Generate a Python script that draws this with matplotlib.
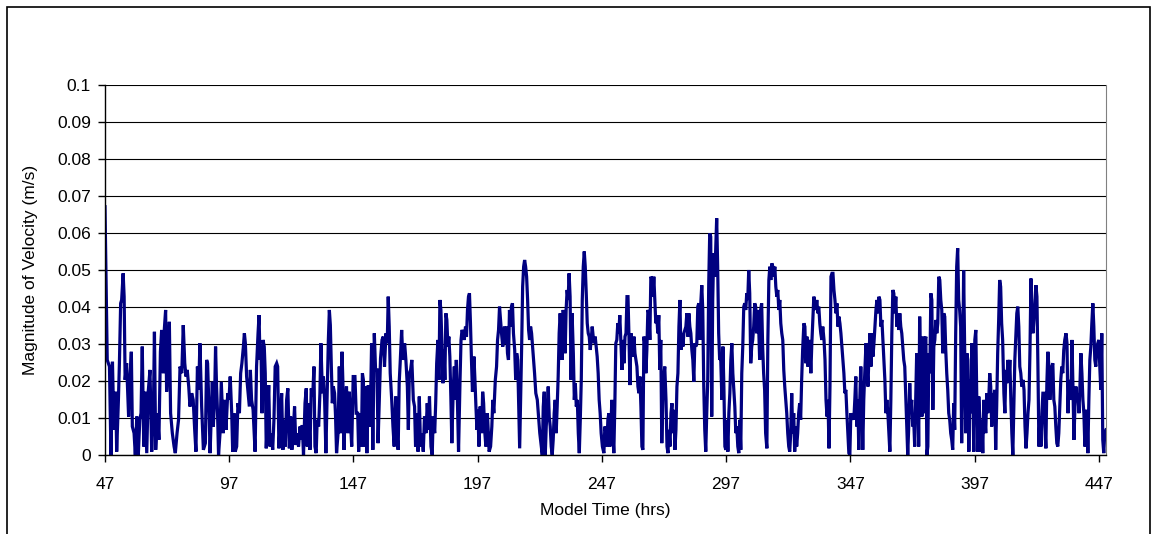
import matplotlib.pyplot as plt
from matplotlib.patches import Rectangle

plt.rcParams['font.family'] = ['Liberation Sans', 'DejaVu Sans']

# model output: hours since start, current speed (m/s)
hours = [
    47.0, 47.9, 48.8, 49.4, 50.0, 50.6, 51.3, 51.7, 52.4, 52.8, 53.3, 53.7, 54.3, 54.7, 55.1, 55.7,
    56.5, 57.1, 57.6, 58.0, 58.7, 59.2, 59.8, 60.4, 61.0, 61.5, 62.0, 62.6, 63.1, 63.8, 64.4, 65.1,
    65.8, 66.5, 66.9, 67.4, 68.1, 68.7, 69.3, 69.8, 70.5, 70.9, 71.4, 71.8, 72.4, 72.9, 73.4, 74.1,
    74.8, 75.3, 76.0, 76.6, 77.2, 77.9, 78.5, 79.1, 79.6, 80.1, 80.7, 81.2, 81.9, 82.5, 83.1, 83.6,
    84.2, 84.7, 85.2, 85.9, 86.6,
    87.4, 87.9, 88.3, 88.9, 89.3, 89.8, 90.2, 90.6, 91.1, 91.5, 91.9, 92.3, 92.7, 93.3, 93.8, 94.2,
    94.6, 95.2, 95.7, 96.4, 96.9, 97.4, 98.0, 98.4, 98.9, 99.4, 100.0, 100.5, 101.1, 101.6, 102.1,
    102.7, 103.1, 103.5, 104.0, 104.5, 105.1, 105.5, 106.0, 106.6, 107.0, 107.4, 108.0, 108.6, 109.0,
    109.4, 109.8, 110.2, 110.6, 111.1, 111.5, 111.9, 112.5, 112.9, 113.4, 113.9, 114.5, 115.0, 115.5,
    116.1, 116.5, 117.0, 117.6, 118.1, 118.6, 119.0, 119.6, 120.1, 120.6, 121.2, 121.7, 122.2, 122.8,
    123.3, 123.8, 124.4, 124.9, 125.5, 126.0, 126.4, 126.9,
    127.5, 128.0, 128.4, 128.9, 129.5, 130.0, 130.6, 131.1, 131.5, 132.0, 132.4, 133.0, 133.5, 133.9,
    134.5, 134.9, 135.4, 135.9, 136.5, 136.9, 137.3, 137.7, 138.1, 138.5, 138.9, 139.4, 139.8, 140.2,
    140.8, 141.3, 141.8, 142.4, 142.8, 143.2, 143.7, 144.2, 144.8, 145.3, 145.9, 146.3, 146.9, 147.6,
    148.1, 148.7, 149.1, 149.6, 150.2, 150.6, 151.0, 151.4, 151.9, 152.4, 153.0, 153.4, 153.9, 154.3,
    154.8, 155.4, 155.9, 156.5, 156.9, 157.4, 157.9, 158.5, 159.0, 159.5, 160.1, 160.6, 161.0, 161.4,
    161.8, 162.4, 162.9, 163.4, 164.0, 164.5, 165.0, 165.4, 165.8, 166.4, 166.9,
    167.6, 168.1, 168.7, 169.1, 169.5, 170.0, 170.5, 171.1, 171.6, 172.0, 172.6, 173.0, 173.5, 174.0,
    174.6, 175.1, 175.6, 176.2, 176.7, 177.2, 177.6, 178.2, 178.7, 179.1, 179.7, 180.1, 180.5, 181.0,
    181.4, 181.8, 182.2, 182.6, 183.0, 183.4, 183.8, 184.2, 184.6, 185.0, 185.4, 185.8, 186.2, 186.6,
    187.2, 187.6, 188.0, 188.4, 188.9, 189.3, 189.9, 190.3, 190.7, 191.2, 191.6, 192.1, 192.5, 192.9,
    193.3, 193.7, 194.1, 194.5, 194.9, 195.5, 195.9, 196.3, 196.7, 197.1, 197.5, 198.0, 198.6, 199.0,
    199.4, 199.8, 200.3, 200.9, 201.3, 201.6, 202.2, 202.7, 203.1, 203.5, 204.1, 204.6, 205.0, 205.4,
    205.8, 206.2, 206.6, 207.1,
    207.8, 208.2, 208.6, 209.0, 209.4, 209.8, 210.2, 210.6, 211.0, 211.4, 211.9, 212.3, 212.7, 213.1,
    213.5, 213.9, 214.3, 214.7, 215.1, 215.5, 215.9, 216.3, 216.7, 217.1, 217.5, 217.9, 218.3, 218.7,
    219.1, 219.5, 219.9, 220.4, 221.0, 221.5, 222.0, 222.6, 223.0, 223.4, 223.8, 224.2, 224.6, 225.0,
    225.4, 225.8, 226.2, 226.6, 227.0, 227.4, 227.8, 228.2, 228.6, 229.0, 229.4, 229.8, 230.2, 230.6,
    231.0, 231.4, 231.8, 232.2, 232.6, 233.0, 233.4, 233.8, 234.2, 234.6, 235.0, 235.5, 235.9, 236.3,
    236.7, 237.1, 237.5, 237.9, 238.3, 238.7, 239.1, 239.5, 239.9, 240.3, 240.7, 241.1, 241.5, 241.9,
    242.3, 242.7, 243.1, 243.5, 244.0, 244.3, 244.7, 245.1, 245.5, 245.9, 246.3, 246.7, 247.2,
    247.8, 248.2, 248.6, 249.0, 249.4, 249.8, 250.2, 250.6, 251.0, 251.4, 251.8, 252.2, 252.6, 253.0,
    253.4, 253.8, 254.2, 254.6, 255.1, 255.5, 255.9, 256.3, 256.7, 257.1, 257.5, 257.9, 258.3, 258.7,
    259.1, 259.5, 259.9, 260.3, 260.7, 261.1, 261.5, 261.9, 262.3, 262.7, 263.1, 263.5, 263.9, 264.3,
    264.7, 265.1, 265.5, 265.9, 266.3, 266.7, 267.1, 267.5, 267.9, 268.3, 268.7, 269.1, 269.5, 269.9,
    270.3, 270.7, 271.1, 271.5, 271.9, 272.3, 272.8, 273.2, 273.6, 274.0, 274.4, 274.8, 275.2, 275.6,
    276.0, 276.4, 276.8, 277.2, 277.6, 278.0, 278.4, 278.8, 279.2, 279.6, 280.0, 280.4, 280.8, 281.2,
    281.6, 282.0, 282.4, 282.8, 283.2, 283.6, 284.0, 284.4, 284.8, 285.2, 285.6, 286.0, 286.4, 286.8,
    287.2, 287.6,
    288.0, 288.4, 288.8, 289.2, 289.6, 290.0, 290.4, 290.8, 291.2, 291.6, 292.0, 292.4, 292.8, 293.2,
    293.6, 294.0, 294.4, 294.8, 295.3, 295.7, 296.1, 296.5, 296.9, 297.3, 297.7, 298.1, 298.5, 298.9,
    299.3, 299.7, 300.1, 300.5, 300.9, 301.3, 301.7, 302.1, 302.5, 302.9, 303.3, 303.7, 304.1, 304.5,
    304.9, 305.3, 305.7, 306.1, 306.5, 306.9, 307.3, 307.7, 308.1, 308.5, 308.9, 309.3, 309.7, 310.1,
    310.5, 310.9, 311.3, 311.7, 312.1, 312.5, 312.9, 313.4, 313.8, 314.2, 314.6, 315.0, 315.4, 315.8,
    316.2, 316.6, 317.0, 317.4, 317.8, 318.2, 318.6, 319.0, 319.4, 319.8, 320.2, 320.6, 321.0, 321.4,
    321.8, 322.2, 322.6, 323.0, 323.4, 323.8, 324.2, 324.6, 325.0, 325.4, 325.8, 326.2, 326.6, 327.0,
    327.4, 327.8,
    328.3, 328.7, 329.1, 329.5, 329.9, 330.3, 330.7, 331.1, 331.5, 331.9, 332.3, 332.7, 333.1, 333.5,
    333.9, 334.3, 334.7, 335.1, 335.5, 335.9, 336.4, 336.8, 337.2, 337.6, 338.0, 338.4, 338.8, 339.2,
    339.6, 340.0, 340.4, 340.8, 341.2, 341.6, 342.0, 342.4, 342.8, 343.2, 343.6, 344.0, 344.4, 344.8,
    345.2, 345.6, 346.0, 346.4, 346.8, 347.2, 347.6, 348.0, 348.4, 348.8, 349.2, 349.6, 350.0, 350.4,
    350.8, 351.2, 351.6, 352.0, 352.4, 352.8, 353.3, 353.7, 354.1, 354.5, 354.9, 355.3, 355.7, 356.1,
    356.5, 356.9, 357.3, 357.7, 358.1, 358.5, 358.9, 359.3, 359.7, 360.1, 360.5, 360.9, 361.3, 361.7,
    362.1, 362.5, 362.9, 363.3, 363.7, 364.1, 364.5, 364.9, 365.3, 365.7, 366.1, 366.5, 366.9, 367.3,
    367.7, 368.1,
    368.5, 368.9, 369.3, 369.7, 370.1, 370.5, 370.9, 371.3, 371.7, 372.1, 372.5, 372.9, 373.3, 373.7,
    374.1, 374.5, 374.9, 375.3, 375.8, 376.2, 376.6, 377.0, 377.4, 377.8, 378.2, 378.6, 379.0, 379.4,
    379.8, 380.2, 380.6, 381.0, 381.4, 381.8, 382.2, 382.6, 383.0, 383.4, 383.8, 384.2, 384.6, 385.0,
    385.4, 385.8, 386.2, 386.6, 387.0, 387.4, 387.8, 388.2, 388.6, 389.0, 389.4, 389.8, 390.2, 390.6,
    391.0, 391.4, 391.8, 392.2, 392.6, 393.0, 393.4, 393.9, 394.3, 394.7, 395.1, 395.5, 395.9, 396.3,
    396.7, 397.1, 397.5, 397.9, 398.3, 398.7, 399.1, 399.5, 399.9, 400.3, 400.7, 401.1, 401.5, 401.9,
    402.3, 402.7, 403.1, 403.5, 403.9, 404.3, 404.7, 405.1, 405.5, 405.9, 406.3, 406.7, 407.1, 407.5,
    407.9, 408.3,
    408.8, 409.2, 409.6, 410.0, 410.4, 410.8, 411.2, 411.6, 412.0, 412.4, 412.8, 413.2, 413.6, 414.0,
    414.4, 414.8, 415.2, 415.6, 416.0, 416.5, 416.9, 417.3, 417.7, 418.1, 418.5, 418.9, 419.3, 419.7,
    420.1, 420.5, 420.9, 421.3, 421.7, 422.1, 422.5, 422.9, 423.3, 423.7, 424.1, 424.5, 424.9, 425.3,
    425.7, 426.1, 426.5, 426.9, 427.3, 427.7, 428.1, 428.5, 428.9, 429.3, 429.7, 430.1, 430.5, 430.9,
    431.3, 431.7, 432.1, 432.5, 432.9, 433.3, 433.8, 434.2, 434.6, 435.0, 435.4, 435.8, 436.2, 436.6,
    437.0, 437.4, 437.8, 438.2, 438.6, 439.0, 439.4, 439.8, 440.2, 440.6, 441.0, 441.4, 441.8, 442.2,
    442.6, 443.0, 443.4, 443.8, 444.2, 444.6, 445.0, 445.4, 445.8, 446.2, 446.6, 447.0, 447.4, 447.8,
    448.2, 448.6, 449.0, 449.4, 449.9,
]

speed = [
    0.0671, 0.0257, 0.0239, 0.0, 0.0252, 0.0068, 0.0171, 0.0009, 0.0149, 0.0248, 0.0410, 0.0419, 0.0491, 0.0428, 0.0203, 0.0248,
    0.0104, 0.0212, 0.0279, 0.0077, 0.0059, 0.0, 0.0104, 0.0, 0.0095, 0.0113, 0.0293, 0.0023, 0.0171, 0.0005, 0.0171, 0.0230,
    0.0009, 0.0131, 0.0333, 0.0014, 0.0113, 0.0041, 0.0279, 0.0338, 0.0221, 0.0342, 0.0392, 0.0171, 0.0257, 0.0360, 0.0113, 0.0059,
    0.0023, 0.0005, 0.0059, 0.0095, 0.0239, 0.0221, 0.0351, 0.0248, 0.0212, 0.0230, 0.0185, 0.0131, 0.0167, 0.0149, 0.0068, 0.0009,
    0.0239, 0.0176, 0.0302, 0.0131, 0.0014,
    0.0032, 0.0257, 0.0248, 0.0113, 0.0005, 0.0113, 0.0198, 0.0077, 0.0149, 0.0293, 0.0185, 0.0113, 0.0, 0.0059, 0.0198, 0.0131,
    0.0059, 0.0149, 0.0068, 0.0167, 0.0149, 0.0212, 0.0113, 0.0009, 0.0113, 0.0009, 0.0023, 0.0140, 0.0113, 0.0221, 0.0248,
    0.0293, 0.0329, 0.0302, 0.0212, 0.0176, 0.0131, 0.0230, 0.0149, 0.0122, 0.0068, 0.0009, 0.0239, 0.0329, 0.0378,
    0.0257, 0.0284, 0.0113, 0.0311, 0.0293, 0.0221, 0.0018, 0.0113, 0.0189, 0.0023, 0.0059, 0.0014, 0.0095, 0.0239,
    0.0248, 0.0239, 0.0018, 0.0095, 0.0167, 0.0014, 0.0095, 0.0023, 0.0149, 0.0180, 0.0018, 0.0104, 0.0014, 0.0068,
    0.0131, 0.0027, 0.0059, 0.0023, 0.0077, 0.0041, 0.0081, 0.0,
    0.0140, 0.0180, 0.0023, 0.0140, 0.0014, 0.0180, 0.0158, 0.0239, 0.0023, 0.0005, 0.0095, 0.0077, 0.0167, 0.0302,
    0.0167, 0.0212, 0.0149, 0.0005, 0.0185, 0.0311, 0.0392, 0.0351, 0.0239, 0.0140, 0.0185, 0.0167, 0.0104, 0.0005,
    0.0059, 0.0239, 0.0059, 0.0279, 0.0185, 0.0014, 0.0131, 0.0185, 0.0059, 0.0171, 0.0077, 0.0023, 0.0212, 0.0212,
    0.0113, 0.0113, 0.0009, 0.0113, 0.0023, 0.0221, 0.0203, 0.0023, 0.0185, 0.0005, 0.0189, 0.0077, 0.0149, 0.0302,
    0.0014, 0.0329, 0.0230, 0.0230, 0.0032, 0.0149, 0.0261, 0.0311, 0.0320, 0.0239, 0.0329, 0.0302, 0.0428, 0.0347,
    0.0221, 0.0149, 0.0077, 0.0023, 0.0158, 0.0059, 0.0014, 0.0194, 0.0248, 0.0338, 0.0257,
    0.0302, 0.0257, 0.0185, 0.0068, 0.0221, 0.0230, 0.0257, 0.0149, 0.0131, 0.0023, 0.0113, 0.0009, 0.0158, 0.0023,
    0.0059, 0.0009, 0.0104, 0.0059, 0.0140, 0.0068, 0.0158, 0.0023, 0.0, 0.0104, 0.0059, 0.0140, 0.0248, 0.0311,
    0.0203, 0.0419, 0.0392, 0.0302, 0.0194, 0.0284, 0.0203, 0.0383, 0.0365, 0.0293, 0.0320, 0.0266, 0.0158, 0.0032,
    0.0185, 0.0239, 0.0149, 0.0257, 0.0131, 0.0009, 0.0203, 0.0311, 0.0338, 0.0329, 0.0311, 0.0347, 0.0320, 0.0392,
    0.0428, 0.0437, 0.0356, 0.0257, 0.0171, 0.0266, 0.0203, 0.0131, 0.0068, 0.0122, 0.0023, 0.0131, 0.0059, 0.0171,
    0.0140, 0.0068, 0.0023, 0.0113, 0.0059, 0.0009, 0.0023, 0.0077, 0.0149, 0.0113, 0.0203, 0.0239, 0.0311, 0.0338,
    0.0401, 0.0365, 0.0329, 0.0293,
    0.0347, 0.0302, 0.0347, 0.0275, 0.0257, 0.0392, 0.0347, 0.0401, 0.0410, 0.0329, 0.0284, 0.0203, 0.0275, 0.0257,
    0.0131, 0.0018, 0.0149, 0.0293, 0.0455, 0.0509, 0.0527, 0.0509, 0.0482, 0.0419, 0.0338, 0.0311, 0.0347, 0.0329,
    0.0293, 0.0257, 0.0221, 0.0167, 0.0149, 0.0104, 0.0059, 0.0023, 0.0, 0.0131, 0.0171, 0.0, 0.0077, 0.0131,
    0.0185, 0.0104, 0.0077, 0.0023, 0.0, 0.0041, 0.0113, 0.0149, 0.0059, 0.0131, 0.0212, 0.0329, 0.0383, 0.0329,
    0.0257, 0.0392, 0.0365, 0.0275, 0.0392, 0.0446, 0.0419, 0.0491, 0.0428, 0.0203, 0.0383, 0.0275, 0.0149, 0.0194,
    0.0131, 0.0149, 0.0059, 0.0005, 0.0095, 0.0203, 0.0419, 0.0509, 0.0550, 0.0509, 0.0437, 0.0356, 0.0329, 0.0320,
    0.0284, 0.0311, 0.0347, 0.0320, 0.0302, 0.0320, 0.0293, 0.0266, 0.0221, 0.0149, 0.0113, 0.0059, 0.0023,
    0.0005, 0.0077, 0.0059, 0.0023, 0.0095, 0.0113, 0.0023, 0.0068, 0.0149, 0.0059, 0.0005, 0.0131, 0.0302, 0.0311,
    0.0356, 0.0329, 0.0378, 0.0311, 0.0230, 0.0311, 0.0248, 0.0320, 0.0329, 0.0428, 0.0428, 0.0320, 0.0189, 0.0329,
    0.0302, 0.0266, 0.0320, 0.0275, 0.0257, 0.0239, 0.0185, 0.0167, 0.0212, 0.0131, 0.0023, 0.0014, 0.0320, 0.0302,
    0.0221, 0.0284, 0.0392, 0.0383, 0.0311, 0.0482, 0.0477, 0.0428, 0.0482, 0.0419, 0.0356, 0.0374, 0.0329, 0.0378,
    0.0230, 0.0311, 0.0032, 0.0149, 0.0212, 0.0239, 0.0149, 0.0023, 0.0005, 0.0068, 0.0023, 0.0113, 0.0140, 0.0059,
    0.0122, 0.0014, 0.0068, 0.0185, 0.0221, 0.0347, 0.0419, 0.0284, 0.0329, 0.0293, 0.0329, 0.0338, 0.0347, 0.0383,
    0.0320, 0.0383, 0.0347, 0.0329, 0.0284, 0.0257, 0.0198, 0.0302, 0.0293, 0.0302, 0.0401, 0.0410, 0.0311, 0.0410,
    0.0459, 0.0392,
    0.0185, 0.0068, 0.0009, 0.0113, 0.0203, 0.0464, 0.0599, 0.0590, 0.0104, 0.0419, 0.0545, 0.0482, 0.0554, 0.0640,
    0.0509, 0.0329, 0.0257, 0.0266, 0.0149, 0.0293, 0.0185, 0.0023, 0.0014, 0.0095, 0.0009, 0.0113, 0.0167, 0.0257,
    0.0302, 0.0221, 0.0176, 0.0131, 0.0059, 0.0077, 0.0023, 0.0005, 0.0095, 0.0014, 0.0221, 0.0293, 0.0401, 0.0410,
    0.0392, 0.0437, 0.0419, 0.0500, 0.0437, 0.0248, 0.0293, 0.0311, 0.0347, 0.0410, 0.0401, 0.0329, 0.0392, 0.0347,
    0.0257, 0.0392, 0.0410, 0.0293, 0.0221, 0.0176, 0.0059, 0.0018, 0.0311, 0.0473, 0.0509, 0.0473, 0.0518, 0.0509,
    0.0482, 0.0509, 0.0455, 0.0428, 0.0446, 0.0392, 0.0419, 0.0356, 0.0329, 0.0311, 0.0230, 0.0185, 0.0149, 0.0113,
    0.0059, 0.0023, 0.0009, 0.0059, 0.0167, 0.0059, 0.0113, 0.0009, 0.0077, 0.0023, 0.0059, 0.0113, 0.0140, 0.0095,
    0.0203, 0.0284,
    0.0356, 0.0347, 0.0248, 0.0320, 0.0239, 0.0311, 0.0293, 0.0221, 0.0302, 0.0365, 0.0428, 0.0410, 0.0392, 0.0419,
    0.0383, 0.0401, 0.0356, 0.0329, 0.0311, 0.0347, 0.0311, 0.0257, 0.0149, 0.0104, 0.0149, 0.0018, 0.0185, 0.0482,
    0.0491, 0.0491, 0.0446, 0.0419, 0.0383, 0.0410, 0.0347, 0.0374, 0.0356, 0.0329, 0.0293, 0.0257, 0.0221, 0.0167,
    0.0176, 0.0113, 0.0059, 0.0005, 0.0, 0.0113, 0.0095, 0.0113, 0.0095, 0.0149, 0.0212, 0.0077, 0.0149, 0.0014,
    0.0149, 0.0239, 0.0149, 0.0014, 0.0149, 0.0221, 0.0302, 0.0239, 0.0185, 0.0275, 0.0329, 0.0239, 0.0329, 0.0266,
    0.0302, 0.0347, 0.0392, 0.0419, 0.0383, 0.0428, 0.0419, 0.0347, 0.0365, 0.0311, 0.0257, 0.0203, 0.0113, 0.0149,
    0.0113, 0.0059, 0.0009, 0.0149, 0.0329, 0.0446, 0.0437, 0.0383, 0.0428, 0.0347, 0.0374, 0.0338, 0.0383, 0.0347,
    0.0329, 0.0293,
    0.0257, 0.0239, 0.0158, 0.0068, 0.0, 0.0077, 0.0194, 0.0113, 0.0149, 0.0077, 0.0095, 0.0023, 0.0149, 0.0275,
    0.0239, 0.0023, 0.0374, 0.0221, 0.0104, 0.0320, 0.0113, 0.0311, 0.0320, 0.0, 0.0023, 0.0275, 0.0221, 0.0437,
    0.0419, 0.0122, 0.0293, 0.0311, 0.0365, 0.0329, 0.0356, 0.0482, 0.0473, 0.0419, 0.0392, 0.0275, 0.0383, 0.0374,
    0.0284, 0.0221, 0.0176, 0.0113, 0.0095, 0.0059, 0.0041, 0.0014, 0.0140, 0.0068, 0.0329, 0.0509, 0.0559, 0.0419,
    0.0392, 0.0347, 0.0032, 0.0239, 0.0500, 0.0293, 0.0059, 0.0275, 0.0257, 0.0009, 0.0203, 0.0113, 0.0302, 0.0149,
    0.0009, 0.0311, 0.0338, 0.0149, 0.0009, 0.0158, 0.0095, 0.0009, 0.0095, 0.0005, 0.0149, 0.0104, 0.0059, 0.0167,
    0.0113, 0.0149, 0.0221, 0.0185, 0.0077, 0.0167, 0.0149, 0.0176, 0.0014, 0.0131, 0.0275, 0.0365, 0.0473, 0.0455,
    0.0356, 0.0311,
    0.0167, 0.0113, 0.0230, 0.0194, 0.0257, 0.0203, 0.0257, 0.0149, 0.0059, 0.0, 0.0131, 0.0257, 0.0320, 0.0383,
    0.0401, 0.0347, 0.0239, 0.0221, 0.0185, 0.0203, 0.0176, 0.0077, 0.0018, 0.0059, 0.0113, 0.0149, 0.0284, 0.0477,
    0.0356, 0.0329, 0.0365, 0.0419, 0.0459, 0.0428, 0.0239, 0.0023, 0.0104, 0.0023, 0.0113, 0.0167, 0.0167, 0.0077,
    0.0018, 0.0194, 0.0279, 0.0239, 0.0149, 0.0203, 0.0239, 0.0248, 0.0149, 0.0131, 0.0077, 0.0032, 0.0023, 0.0059,
    0.0131, 0.0203, 0.0239, 0.0221, 0.0284, 0.0311, 0.0329, 0.0302, 0.0113, 0.0203, 0.0149, 0.0167, 0.0311, 0.0185,
    0.0041, 0.0131, 0.0185, 0.0149, 0.0167, 0.0113, 0.0185, 0.0275, 0.0221, 0.0149, 0.0113, 0.0023, 0.0113, 0.0122,
    0.0005, 0.0149, 0.0257, 0.0293, 0.0356, 0.0410, 0.0347, 0.0257, 0.0239, 0.0293, 0.0302, 0.0311, 0.0239, 0.0176,
    0.0329, 0.0041, 0.0005, 0.0059, 0.0068,
]

xticks = [47, 97, 147, 197, 247, 297, 347, 397, 447]
yticks = [0, 0.01, 0.02, 0.03, 0.04, 0.05, 0.06, 0.07, 0.08, 0.09, 0.1]
ytick_labels = ['0', '0.01', '0.02', '0.03', '0.04', '0.05', '0.06', '0.07', '0.08', '0.09', '0.1']

fig = plt.figure(figsize=(11.58, 5.34), dpi=100)
ax = fig.add_axes([105 / 1158, 79 / 534, 1001 / 1158, 370 / 534])

ax.plot(hours, speed, color='#000080', linewidth=2.3, solid_joinstyle='miter')

ax.set_xlim(47, 449.9)
ax.set_ylim(0, 0.1)
ax.set_xticks(xticks)
ax.set_xticklabels([str(t) for t in xticks])
ax.set_yticks(yticks)
ax.set_yticklabels(ytick_labels)

ax.grid(True, axis='y', color='black', linewidth=0.8)
ax.set_axisbelow(True)
ax.spines['top'].set_visible(False)
ax.spines['right'].set_color('#808080')
ax.spines['left'].set_linewidth(1.0)
ax.spines['bottom'].set_linewidth(1.0)

ax.tick_params(axis='both', direction='out', length=5, width=1.0, labelsize=12.5)
ax.tick_params(axis='x', pad=11)
ax.tick_params(axis='y', pad=5)

ax.set_xlabel('Model Time (hrs)', fontsize=12.5, labelpad=8)
ax.set_ylabel('Magnitude of Velocity (m/s)', fontsize=12.5, labelpad=14)

# chart frame
fig.patches.append(Rectangle((7 / 1158, -0.05), 1143 / 1158, 1.05 - 7 / 534,
                             transform=fig.transFigure, fill=False,
                             edgecolor='black', linewidth=1.2))

plt.savefig('out.png', dpi=100)
